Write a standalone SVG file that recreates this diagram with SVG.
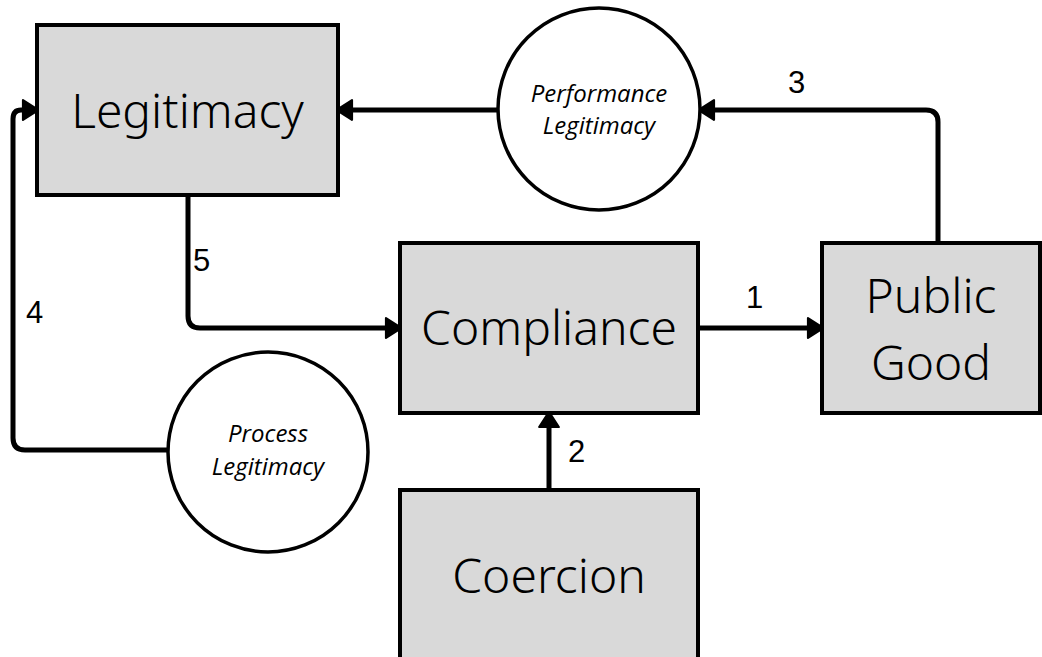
<svg xmlns="http://www.w3.org/2000/svg" width="1042" height="657" viewBox="0 0 1042 657">
<style>
.box{fill:#d9d9d9;stroke:#000;stroke-width:4}
.circ{fill:#fff;stroke:#000;stroke-width:3.5}
.big{font-family:"Noto Sans",sans-serif;font-size:48px;font-weight:300;fill:#000;text-anchor:middle}
.ital{font-family:"Open Sans",sans-serif;font-style:italic;font-size:24px;fill:#000;text-anchor:middle}
.num{font-family:"Liberation Sans",Arial,sans-serif;font-size:31px;fill:#000}
.con{fill:none;stroke:#000;stroke-width:5;stroke-linejoin:round}
</style>
<defs>
<marker id="ah" markerUnits="userSpaceOnUse" markerWidth="20" markerHeight="24" viewBox="0 0 16 22" refX="1" refY="11" orient="auto">
<path d="M1,2 L15,11 L1,20 Z" fill="#000" stroke="#000" stroke-width="2" stroke-linejoin="round"/>
</marker>
</defs>
<rect width="1042" height="657" fill="#fff"/>
<g id="connectors">
<path class="con" d="M498,110 H352" marker-end="url(#ah)"/>
<path class="con" d="M938,243 V122 Q938,110 926,110 H714" marker-end="url(#ah)"/>
<path class="con" d="M168,450 H25 Q13,450 13,438 V119 Q13,110 21,110 H23" marker-end="url(#ah)"/>
<path class="con" d="M188,195 V316 Q188,328 200,328 H386" marker-end="url(#ah)"/>
<path class="con" d="M698,328 H808" marker-end="url(#ah)"/>
<path class="con" d="M549,490 V427" marker-end="url(#ah)"/>
<text class="num" x="788" y="93">3</text>
<text class="num" x="26" y="323">4</text>
<text class="num" x="193" y="271">5</text>
<text class="num" x="746" y="308">1</text>
<text class="num" x="568" y="462">2</text>
</g>
<g id="legitimacy">
<rect class="box" x="37" y="25" width="301" height="170"/>
<text class="big" x="187.5" y="128">Legitimacy</text>
</g>
<g id="performance-legitimacy">
<circle class="circ" cx="599" cy="109" r="101"/>
<text class="ital" x="599" y="102">Performance</text>
<text class="ital" x="599" y="134">Legitimacy</text>
</g>
<g id="process-legitimacy">
<circle class="circ" cx="268" cy="452" r="100"/>
<text class="ital" x="268" y="442">Process</text>
<text class="ital" x="268" y="475">Legitimacy</text>
</g>
<g id="compliance">
<rect class="box" x="400" y="243" width="298" height="170"/>
<text class="big" x="549" y="345">Compliance</text>
</g>
<g id="public-good">
<rect class="box" x="822" y="243" width="218" height="170"/>
<text class="big" x="931" y="313">Public</text>
<text class="big" x="931" y="380">Good</text>
</g>
<g id="coercion">
<rect class="box" x="400" y="490" width="298" height="180"/>
<text class="big" x="549" y="593">Coercion</text>
</g>
</svg>
